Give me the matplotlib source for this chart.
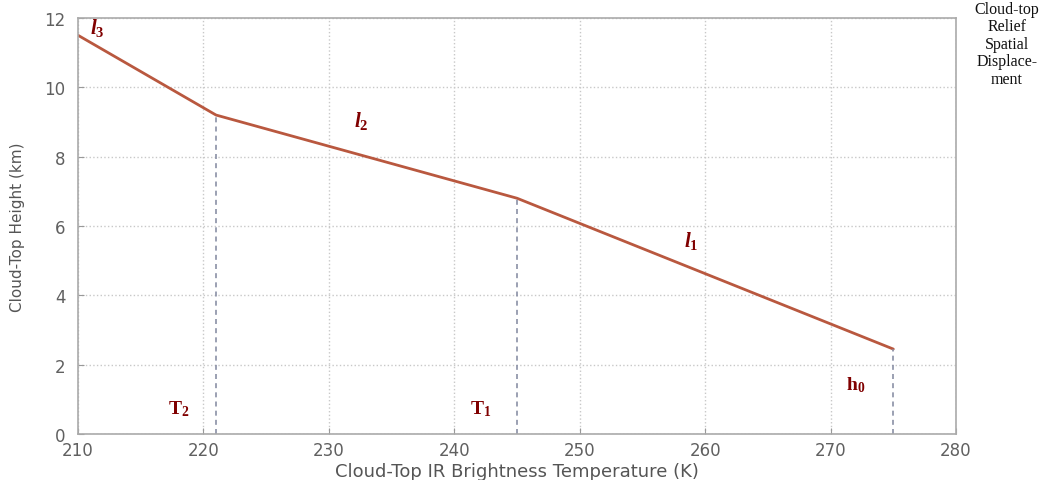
import matplotlib
matplotlib.use("Agg")
import matplotlib.pyplot as plt

# Piecewise-linear height/temperature relation (break points)
temps = [210, 221, 245, 275]
heights = [11.5, 9.2, 6.8, 2.45]

# Vertical markers at the break temperatures and the base
marker_temps = [221, 245, 275]
marker_heights = [9.2, 6.8, 2.45]

x_ticks = [210, 220, 230, 240, 250, 260, 270, 280]
y_ticks = [0, 2, 4, 6, 8, 10, 12]

# Annotation labels: (text, x, y)
segment_labels = [
    (r"$\mathit{l_3}$", 211.5, 11.75),
    (r"$\mathit{l_2}$", 232.6, 9.05),
    (r"$\mathit{l_1}$", 258.9, 5.6),
]
point_labels = [
    (r"$\mathrm{T_2}$", 218.0, 0.75),
    (r"$\mathrm{T_1}$", 242.1, 0.75),
    (r"$\mathrm{h_0}$", 272.0, 1.45),
]
side_note = "Cloud-top\nRelief\nSpatial\nDisplace-\nment"

plt.rcParams["mathtext.fontset"] = "custom"
plt.rcParams["mathtext.rm"] = "Liberation Serif:bold"
plt.rcParams["mathtext.it"] = "Liberation Serif:bold:italic"
plt.rcParams["mathtext.bf"] = "Liberation Serif:bold"

fig = plt.figure(figsize=(10.42, 4.81), dpi=100)
ax = fig.add_axes([0.0749, 0.0956, 0.8426, 0.865])

ax.set_xlim(210, 280)
ax.set_ylim(0, 12)
ax.set_xticks(x_ticks)
ax.set_yticks(y_ticks)
ax.tick_params(direction="in", length=4, color="#999999",
               labelsize=12, labelcolor="#606060", top=False, right=False)
ax.tick_params(axis="y", pad=9)
ax.tick_params(axis="x", pad=5)
for sp in ax.spines.values():
    sp.set_color("#aaaaaa")
    sp.set_linewidth(1.2)
ax.grid(True, linestyle=":", color="#c8c8c8", linewidth=1.0)
ax.set_axisbelow(True)

ax.plot(temps, heights, color="#b9583f", linewidth=2.0, solid_capstyle="round")

for t, h in zip(marker_temps, marker_heights):
    ax.plot([t, t], [0, h], linestyle=(0, (3, 2.5)), color="#8a90a6",
            linewidth=1.2)

label_color = "#800000"
for s, x, y in segment_labels:
    ax.text(x, y, s, fontsize=15, color=label_color, ha="center", va="center")
for s, x, y in point_labels:
    ax.text(x, y, s, fontsize=14, color=label_color, ha="center", va="center")

ax.set_xlabel("Cloud-Top IR Brightness Temperature (K)", fontsize=13,
              color="#555555", labelpad=2)
ax.set_ylabel("Cloud-Top Height (km)", fontsize=11, color="#555555",
              labelpad=14)

fig.text(1007 / 1042, 1 - 2 / 481, side_note, family="Liberation Serif",
         fontsize=11.5, ha="center", va="top", linespacing=1.12,
         color="#111111")

fig.savefig("out.png", dpi=100)
